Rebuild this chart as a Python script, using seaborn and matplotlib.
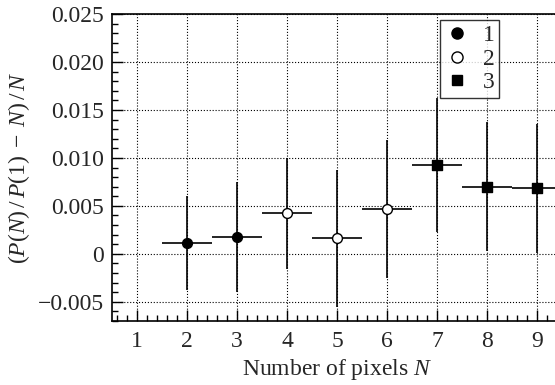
import numpy as np
import pandas as pd
import seaborn as sns
import matplotlib
matplotlib.use("Agg")
import matplotlib.pyplot as plt
from matplotlib.ticker import MultipleLocator
from matplotlib.lines import Line2D

# data
pixels = [2, 3, 4, 5, 6, 7, 8, 9]
ratio = [0.00118, 0.00174, 0.00424, 0.0016, 0.0047, 0.00927, 0.0070, 0.00684]
ratio_err = [0.0049, 0.0057, 0.0058, 0.0071, 0.0072, 0.0070, 0.0067, 0.0067]
pixel_err = [0.5, 0.5, 0.5, 0.5, 0.5, 0.5, 0.5, 0.5]
group = ["1", "1", "2", "2", "2", "3", "3", "3"]
ytick_vals = [-0.005, 0.0, 0.005, 0.010, 0.015, 0.020, 0.025]
ytick_labels = ["\u22120.005", "0", "0.005", "0.010", "0.015", "0.020", "0.025"]

df = pd.DataFrame({"N": pixels, "y": ratio, "yerr": ratio_err,
                   "xerr": pixel_err, "group": group})

sns.set_theme(style="ticks")
plt.rcParams["font.family"] = ["Liberation Serif", "DejaVu Serif"]
plt.rcParams["mathtext.fontset"] = "custom"
plt.rcParams["mathtext.rm"] = "Liberation Serif"
plt.rcParams["mathtext.it"] = "Liberation Serif:italic"

fig = plt.figure(figsize=(5.55, 3.85), dpi=100)
ax = fig.add_axes([112 / 555, 64 / 385, 450 / 555, 307 / 385])

styles = {
    "1": dict(marker="o", facecolor="black", s=50),
    "2": dict(marker="o", facecolor="white", s=50),
    "3": dict(marker="s", facecolor="black", s=50),
}

ax.errorbar(df["N"], df["y"], xerr=df["xerr"], yerr=df["yerr"],
            fmt="none", ecolor="black", elinewidth=1.2, capsize=0, zorder=2)

for g, st in styles.items():
    sub = df[df["group"] == g]
    sns.scatterplot(data=sub, x="N", y="y", marker=st["marker"], s=st["s"],
                    color=st["facecolor"], edgecolor="black", linewidth=1.0,
                    zorder=3, ax=ax, legend=False)

ax.set_xlim(0.5, 9.5)
ax.set_ylim(-0.007, 0.025)
ax.xaxis.set_major_locator(MultipleLocator(1))
ax.xaxis.set_minor_locator(MultipleLocator(0.2))
ax.yaxis.set_minor_locator(MultipleLocator(0.001))
ax.set_yticks(ytick_vals)
ax.set_yticklabels(ytick_labels)
ax.tick_params(which="both", direction="in", labelsize=17, color="black",
               top=False, right=False)
ax.tick_params(which="major", length=8, width=1, pad=6)
ax.tick_params(axis="x", which="major", pad=7)
ax.tick_params(which="minor", length=4, width=1)
ax.grid(True, which="major", linestyle=":", color="black", linewidth=0.8)
for sp in ax.spines.values():
    sp.set_color("black")
    sp.set_linewidth(1.2)

ax.set_xlabel("Number of pixels $N$", fontsize=17, labelpad=4)
ax.set_ylabel("$(P(N)\\,/\\,P(1)\\;-\\;N)\\,/\\,N$", fontsize=17, labelpad=4)

handles = [
    Line2D([], [], linestyle="none", marker="o", markersize=8,
           markerfacecolor="black", markeredgecolor="black"),
    Line2D([], [], linestyle="none", marker="o", markersize=8,
           markerfacecolor="white", markeredgecolor="black"),
    Line2D([], [], linestyle="none", marker="s", markersize=7,
           markerfacecolor="black", markeredgecolor="black"),
]
leg = ax.legend(handles, ["1", "2", "3"], loc="upper left",
                bbox_to_anchor=((440 - 112) / 450, 0.98), fontsize=17,
                frameon=True, fancybox=False, edgecolor="black",
                handletextpad=0.6, handlelength=1.0, labelspacing=0.08,
                borderpad=0.2, borderaxespad=0.0)
leg.get_frame().set_linewidth(1.0)

fig.savefig("out.png", dpi=100)
